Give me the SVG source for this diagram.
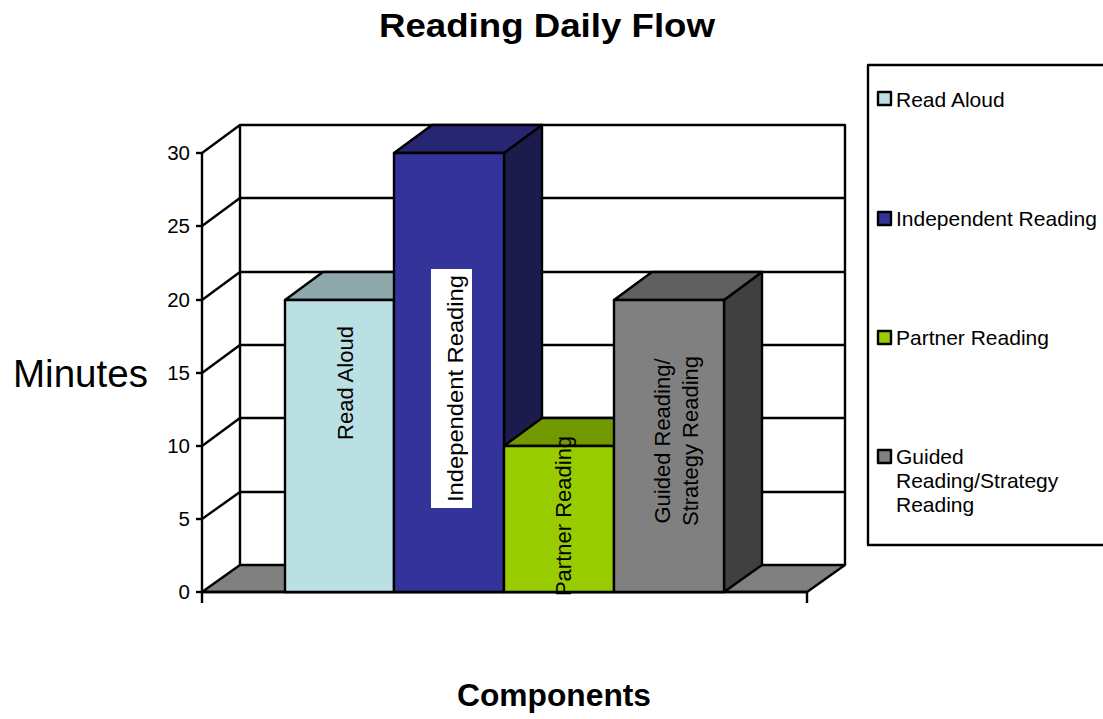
<svg xmlns="http://www.w3.org/2000/svg" width="1103" height="719" viewBox="0 0 1103 719">
  <style>
    .ln { stroke: #000; stroke-width: 2.4; fill: none; stroke-linejoin: round; }
    .face { stroke: #000; stroke-width: 2.4; stroke-linejoin: round; }
    .t { font-family: "Liberation Sans", Arial, sans-serif; fill: #000; }
    .tick { font-size: 20.5px; text-anchor: end; }
    .lbl { font-size: 22px; text-anchor: middle; }
    .leg { font-size: 21px; }
  </style>
  <rect width="1103" height="719" fill="#fff"/>

  <!-- Title -->
  <text class="t" x="547" y="37" font-size="34" font-weight="bold" text-anchor="middle" textLength="336" lengthAdjust="spacingAndGlyphs">Reading Daily Flow</text>

  <!-- Chart frame: walls, floor, grid -->
  <g id="frame">
    <rect x="240" y="125" width="605" height="440" fill="#fff"/>
    <polygon points="202,153 240,125 240,565 202,592" fill="#fff"/>
    <polygon class="face" points="202,592 240,565 845,565 807,592" fill="#808080"/>
    <g class="ln">
      <!-- back wall -->
      <polyline points="240,565 240,125 845,125 845,565"/>
      <!-- back gridlines -->
      <line x1="240" y1="198" x2="845" y2="198"/>
      <line x1="240" y1="272" x2="845" y2="272"/>
      <line x1="240" y1="345" x2="845" y2="345"/>
      <line x1="240" y1="418" x2="845" y2="418"/>
      <line x1="240" y1="492" x2="845" y2="492"/>
      <!-- side wall gridlines -->
      <line x1="202" y1="153" x2="240" y2="125"/>
      <line x1="202" y1="226" x2="240" y2="198"/>
      <line x1="202" y1="300" x2="240" y2="272"/>
      <line x1="202" y1="373" x2="240" y2="345"/>
      <line x1="202" y1="446" x2="240" y2="418"/>
      <line x1="202" y1="519" x2="240" y2="492"/>
      <!-- value axis -->
      <line x1="202" y1="153" x2="202" y2="603"/>
      <line x1="196" y1="153" x2="202" y2="153"/>
      <line x1="196" y1="226" x2="202" y2="226"/>
      <line x1="196" y1="300" x2="202" y2="300"/>
      <line x1="196" y1="373" x2="202" y2="373"/>
      <line x1="196" y1="446" x2="202" y2="446"/>
      <line x1="196" y1="519" x2="202" y2="519"/>
      <line x1="196" y1="592" x2="202" y2="592"/>
      <!-- category axis -->
      <line x1="202" y1="592" x2="807" y2="592"/>
      <line x1="807" y1="592" x2="807" y2="603"/>
    </g>
  </g>

  <!-- Value axis labels -->
  <g id="axis-labels" class="t tick">
    <text x="190" y="160">30</text>
    <text x="190" y="233">25</text>
    <text x="190" y="307">20</text>
    <text x="190" y="380">15</text>
    <text x="190" y="453">10</text>
    <text x="190" y="526">5</text>
    <text x="190" y="599">0</text>
  </g>

  <!-- Bars -->
  <g id="bar-read-aloud">
    <polygon class="face" points="285,300 323,272 432,272 394,300" fill="#8CA8AA"/>
    <rect class="face" x="285" y="300" width="109" height="292" fill="#BBE0E3"/>
    <text class="t lbl" font-size="21.5" transform="translate(353,383) rotate(-90)">Read Aloud</text>
  </g>

  <g id="bar-independent-reading">
    <polygon class="face" points="504,153 542,125 542,565 504,592" fill="#1C1C4C"/>
    <polygon class="face" points="394,153 432,125 542,125 504,153" fill="#262673"/>
    <rect class="face" x="394" y="153" width="110" height="439" fill="#333399"/>
    <rect x="431" y="269" width="41" height="239" fill="#fff"/>
    <text class="t lbl" font-size="24" textLength="227" lengthAdjust="spacingAndGlyphs" transform="translate(463,388.5) rotate(-90)">Independent Reading</text>
  </g>

  <g id="bar-partner-reading">
    <polygon class="face" points="504,446 542,418 652,418 614,446" fill="#739900"/>
    <rect class="face" x="504" y="446" width="110" height="146" fill="#99CC00"/>
  </g>

  <g id="bar-guided-reading">
    <polygon class="face" points="724,300 762,272 762,565 724,592" fill="#404040"/>
    <polygon class="face" points="614,300 652,272 762,272 724,300" fill="#606060"/>
    <rect class="face" x="614" y="300" width="110" height="292" fill="#808080"/>
    <text class="t lbl" transform="translate(670,441) rotate(-90)">Guided Reading/</text>
    <text class="t lbl" transform="translate(698,441) rotate(-90)">Strategy Reading</text>
  </g>

  <!-- Partner label overlaps the neighbouring bar, so it is drawn last -->
  <text class="t lbl" font-size="21" transform="translate(571,516) rotate(-90)">Partner Reading</text>

  <!-- Axis titles -->
  <text class="t" x="13" y="387" font-size="39" textLength="135" lengthAdjust="spacingAndGlyphs">Minutes</text>
  <text class="t" x="554" y="706" font-size="31" font-weight="bold" text-anchor="middle" textLength="194" lengthAdjust="spacingAndGlyphs">Components</text>

  <!-- Legend -->
  <g id="legend">
    <rect class="ln" x="868" y="65" width="245" height="480" fill="#fff"/>
    <rect class="face" x="878" y="92" width="13" height="13" fill="#BBE0E3"/>
    <text class="t leg" x="896" y="107">Read Aloud</text>
    <rect class="face" x="878" y="212" width="13" height="13" fill="#333399"/>
    <text class="t leg" x="896" y="226">Independent Reading</text>
    <rect class="face" x="878" y="331" width="13" height="13" fill="#99CC00"/>
    <text class="t leg" x="896" y="345">Partner Reading</text>
    <rect class="face" x="878" y="450" width="13" height="13" fill="#808080"/>
    <text class="t leg" x="896" y="464">Guided</text>
    <text class="t leg" x="896" y="488">Reading/Strategy</text>
    <text class="t leg" x="896" y="512">Reading</text>
  </g>
</svg>
